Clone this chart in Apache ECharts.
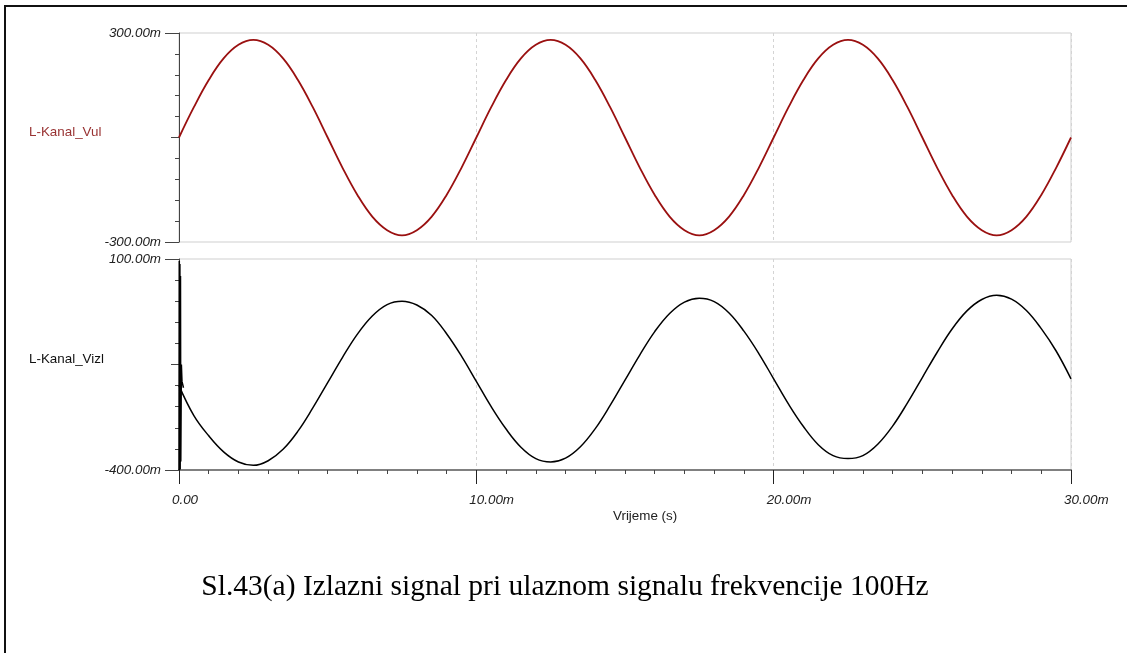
<!DOCTYPE html>
<html>
<head>
<meta charset="utf-8">
<script src="https://cdn.jsdelivr.net/npm/echarts@6/dist/echarts.min.js"></script>
<style>
html,body{margin:0;padding:0;background:#fff;}
#chart{width:1127px;height:653px;}
</style>
</head>
<body>
<div id="chart"></div>
<script>
// time samples (ms)
const tMs = [0,0.5,1,1.5,2,2.5,3,3.5,4,4.5,5,5.5,6,6.5,7,7.5,8,8.5,9,9.5,
  10,10.5,11,11.5,12,12.5,13,13.5,14,14.5,15,15.5,16,16.5,17,17.5,18,18.5,19,19.5,
  20,20.5,21,21.5,22,22.5,23,23.5,24,24.5,25,25.5,26,26.5,27,27.5,28,28.5,29,29.5,30];
// L-Kanal_Vul (mV)
const vulValues = [0,87,165,227,266,280,266,227,165,87,0,-87,-165,-227,-266,-281,-266,-227,-165,-87,
  0,87,165,227,266,280,266,227,165,87,0,-87,-165,-227,-266,-281,-266,-227,-165,-87,
  0,87,165,227,266,280,266,227,165,87,0,-87,-165,-227,-266,-281,-266,-227,-165,-87,0];
// L-Kanal_Vizl (mV)
const vizlValues = [-200,-271,-319,-357,-381,-389,-378,-351,-308,-253,-193,-133,-78,-35,-8,0,-9,-34,-77,-130,
  -190,-250,-303,-346,-373,-381,-372,-345,-302,-247,-187,-127,-72,-29,-2,7,-1,-28,-71,-124,
  -184,-244,-297,-340,-366,-373,-366,-339,-296,-241,-181,-121,-66,-23,4,14,5,-22,-65,-118,-184];
// start-up spike of L-Kanal_Vizl
const spikeT = [0,0.01,0.02,0.03,0.04,0.05,0.06,0.08,0.1,0.15];
const spikeV = [-400,95,-400,88,-398,60,-380,-150,-190,-205];
// tick labels
const xTicks = [0,10,20,30];
const vulLabelTicks = [-300,300];
const vizlLabelTicks = [-400,100];

const labelFont = {fontFamily:'Liberation Sans, Arial, sans-serif', fontStyle:'italic', fontSize:13.4, color:'#222'};
const plainFont = '13.4px "Liberation Sans", Arial, sans-serif';

function yAxes(gridIndex, min, max, step, mid, labelVals){
  return [
    {type:'value', gridIndex, position:'left', offset:0, min, max, interval:step,
     axisLine:{show:true, onZero:false, lineStyle:{color:'#444', width:1}},
     axisTick:{show:true, length:4, lineStyle:{color:'#444'}},
     axisLabel:{show:false}, splitLine:{show:false}},
    {type:'value', gridIndex, position:'left', offset:0, min, max,
     axisLine:{show:false, onZero:false},
     axisTick:{show:true, customValues:[mid], length:8, lineStyle:{color:'#444'}},
     axisLabel:{show:false}, splitLine:{show:false}},
    {type:'value', gridIndex, position:'left', offset:0, min, max,
     axisLine:{show:false, onZero:false},
     axisTick:{show:true, customValues:labelVals, length:14, lineStyle:{color:'#444'}},
     axisLabel:Object.assign({show:true, customValues:labelVals, margin:18,
        formatter:v=>v.toFixed(2)+'m'}, labelFont),
     splitLine:{show:false}}
  ];
}

const chart = echarts.init(document.getElementById('chart'), null, {renderer:'canvas'});
const option = {
  animation:false,
  backgroundColor:'#fff',
  grid:[
    {left:179, top:33, width:892, height:209, show:true, borderColor:'#cfcfcf', borderWidth:1, backgroundColor:'transparent'},
    {left:179, top:259, width:892, height:211, show:true, borderColor:'#cfcfcf', borderWidth:1, backgroundColor:'transparent'}
  ],
  xAxis:[
    {type:'value', gridIndex:0, min:0, max:30, interval:10, position:'bottom',
     axisLine:{show:false, onZero:false}, axisTick:{show:false}, axisLabel:{show:false},
     splitLine:{show:true, lineStyle:{type:[3,3], color:'#d4d4d4', width:1}}},
    {type:'value', gridIndex:1, min:0, max:30, interval:10, position:'bottom',
     axisLine:{show:true, onZero:false, lineStyle:{color:'#808080', width:2}},
     axisTick:{show:true, length:14, lineStyle:{color:'#222', width:1}},
     minorTick:{show:true, splitNumber:10, length:4, lineStyle:{color:'#444', width:1}},
     axisLabel:Object.assign({show:true, customValues:xTicks, margin:24, align:'left', padding:[0,0,0,-7],
        formatter:v=> v===0 ? '0.00' : v.toFixed(2)+'m'}, labelFont),
     splitLine:{show:true, lineStyle:{type:[3,3], color:'#d4d4d4', width:1}}}
  ],
  yAxis: yAxes(0,-300,300,60,0,vulLabelTicks).concat(yAxes(1,-400,100,50,-150,vizlLabelTicks)),
  series:[
    {type:'line', xAxisIndex:0, yAxisIndex:0, data:tMs.map((t,i)=>[t,vulValues[i]]),
     smooth:0.4, showSymbol:false, lineStyle:{color:'#9a1010', width:1.8}},
    {type:'line', xAxisIndex:1, yAxisIndex:3, data:tMs.map((t,i)=>[t,vizlValues[i]]),
     smooth:0.4, showSymbol:false, lineStyle:{color:'#000', width:1.5}},
    {type:'line', xAxisIndex:1, yAxisIndex:3, data:spikeT.map((t,i)=>[t,spikeV[i]]),
     smooth:false, showSymbol:false, lineStyle:{color:'#000', width:1.5}}
  ],
  graphic:[
    {type:'line', shape:{x1:5, y1:6, x2:1127, y2:6}, style:{stroke:'#111', lineWidth:2}},
    {type:'line', shape:{x1:5, y1:5, x2:5, y2:653}, style:{stroke:'#111', lineWidth:2}},
    {type:'text', left:29, top:126, style:{text:'L-Kanal_Vul', fill:'#993333', font:plainFont}},
    {type:'text', left:29, top:353, style:{text:'L-Kanal_Vizl', fill:'#111', font:plainFont}},
    {type:'text', left:613, top:510, style:{text:'Vrijeme (s)', fill:'#222', font:plainFont}},
    {type:'text', x:565, y:587, style:{text:'Sl.43(a) Izlazni signal pri ulaznom signalu frekvencije 100Hz', fill:'#000',
      font:'29.5px "Liberation Serif", "Times New Roman", serif', align:'center', verticalAlign:'middle'}}
  ]
};
chart.setOption(option);
</script>
</body>
</html>
